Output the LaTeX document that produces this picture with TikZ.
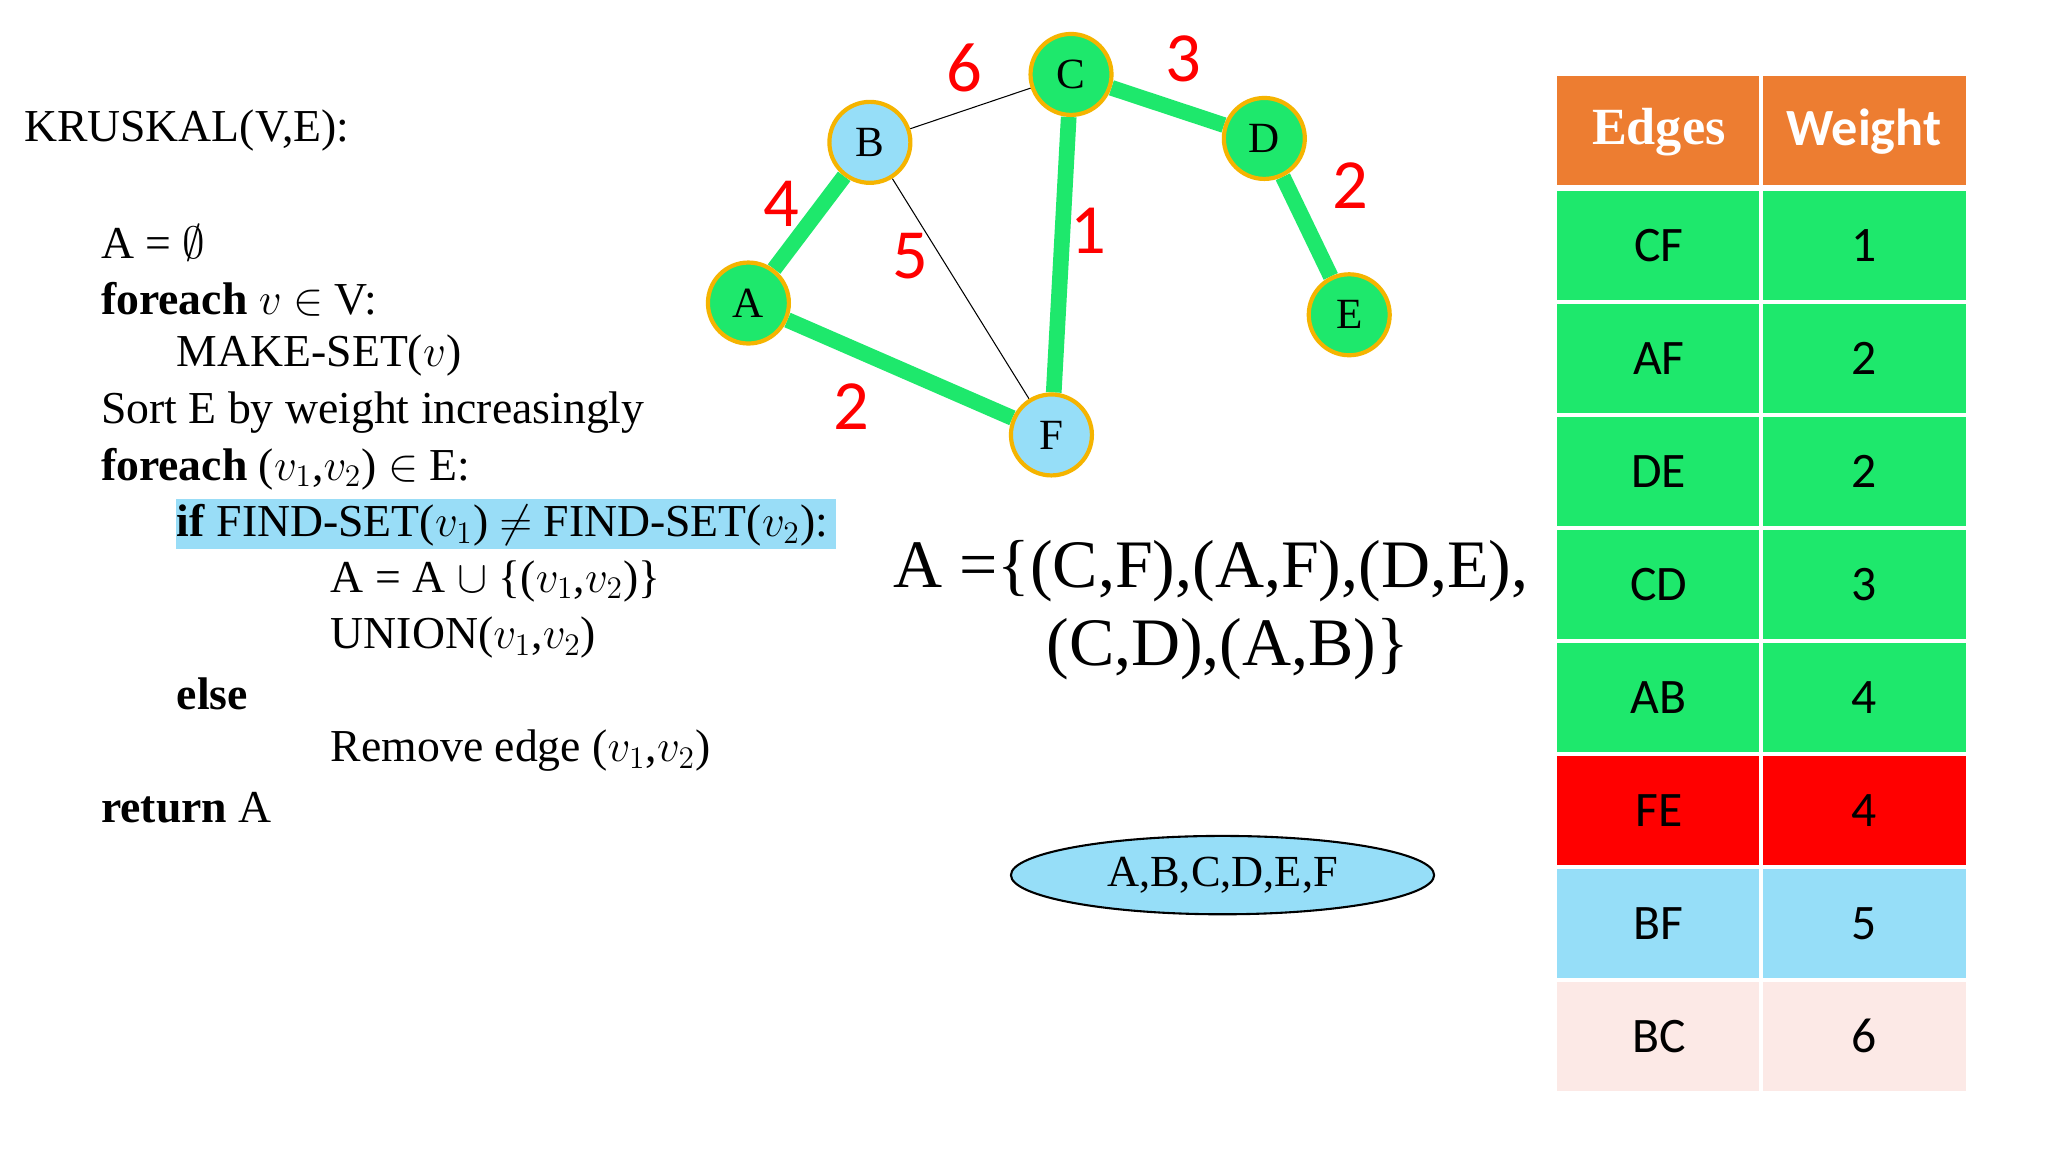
\documentclass[tikz,border=0pt]{standalone}
\usepackage{amssymb}
\usepackage{fontspec}
\setmainfont{Liberation Serif}
\newfontfamily\calfont{Carlito}
\usetikzlibrary{shapes.geometric,backgrounds}
\begin{document}
\begin{tikzpicture}[x=0.5pt,y=-0.5pt]
\definecolor{gr}{HTML}{1EE86C}
\definecolor{lb}{HTML}{96DEF8}
\definecolor{og}{HTML}{ED7D31}
\definecolor{rd}{HTML}{FF0000}
\definecolor{pk}{HTML}{FCE9E6}
\definecolor{yb}{HTML}{F5B400}
\definecolor{hl}{HTML}{99DDF7}
\tikzset{
 code/.style={anchor=west,inner sep=0pt,font=\fontsize{17.5}{19}\selectfont},
 vert/.style={circle,draw=yb,line width=1.6pt,minimum size=31pt,inner sep=0pt,font=\fontsize{16.5}{17}\selectfont},
 tree/.style={gr,line width=6pt},
 thinedge/.style={black,line width=0.4pt},
 wt/.style={red,font=\calfont\fontsize{27}{28}\selectfont},
 cell/.style={minimum width=76.5pt,minimum height=41.5pt,inner sep=0pt,font=\calfont\fontsize{19}{20}\selectfont},
}
\useasboundingbox (0,0) rectangle (1568,882);
% code
\node[code] (k) at (18,100) {KRUSKAL(V,E):};
\node[code] (l1) at (77,186) {A = $\emptyset$};
\node[code] (l2) at (77,229) {\textbf{foreach} $v$ $\in$ V:};
\node[code] (l3) at (135,272) {MAKE-SET($v$)};
\node[code] (l4) at (77,316) {Sort E by weight increasingly};
\node[code] (l5) at (77,359) {\textbf{foreach} ($v_1$,$v_2$) $\in$ E:};
\node[code] (l6) at (135,402) {\textbf{if} FIND-SET($v_1$) $\neq$ FIND-SET($v_2$):};
\node[code] (l7) at (253,445) {A = A $\cup$ \{($v_1$,$v_2$)\}};
\node[code] (l8) at (253,488) {UNION($v_1$,$v_2$)};
\node[code] (l9) at (135,531) {\textbf{else}};
\node[code] (l10) at (253,575) {Remove edge ($v_1$,$v_2$)};
\node[code] (l11) at (77,618) {\textbf{return} A};
% graph
\node[vert,fill=lb] (B) at (666,109) {B};
\node[vert,fill=gr] (C) at (820,57) {C};
\node[vert,fill=gr] (D) at (968,106) {D};
\node[vert,fill=gr] (A) at (573,232) {A};
\node[vert,fill=gr] (E) at (1033,241) {E};
\node[vert,fill=lb] (F) at (805,333) {F};
\begin{pgfonlayer}{background}
\fill[white] (0,0) rectangle (1568,882);
\fill[hl] (135,382) rectangle (640,420);
\draw[tree] (A) -- (B);
\draw[tree] (A) -- (F);
\draw[tree] (C) -- (F);
\draw[tree] (C) -- (D);
\draw[tree] (D) -- (E);
\draw[thinedge] (B) -- (C);
\draw[thinedge] (B) -- (F);
\end{pgfonlayer}
\node[wt] (w6) at (738,52) {6};
\node[wt] (w3) at (906,45) {3};
\node[wt] (w4) at (598,156) {4};
\node[wt] (w1) at (833,177) {1};
\node[wt] (w5) at (697,196) {5};
\node[wt] (w2a) at (652,311) {2};
\node[wt] (w2b) at (1034,142) {2};
% result
\node[font=\fontsize{26}{28}\selectfont] (r1) at (927,437) {A =\{(C,F),(A,F),(D,E),};
\node[font=\fontsize{26}{28}\selectfont] (r2) at (940,497) {(C,D),(A,B)\}};
\node[ellipse,draw=black,fill=lb,line width=0.8pt,minimum width=162pt,minimum height=30pt,inner sep=0pt,font=\fontsize{17}{18}\selectfont] (set) at (936,670) {A,B,C,D,E,F};
% table
\fill[og] (1192,58) rectangle (1347,142);
\fill[og] (1350,58) rectangle (1505,142);
\node[white,font=\bfseries\fontsize{20}{22}\selectfont] (h1) at (1270,101) {Edges};
\node[white,font=\calfont\bfseries\fontsize{20}{22}\selectfont] (h2) at (1427,101) {Weight};
\foreach \e/\w/\c [count=\i from 0] in {CF/1/gr,AF/2/gr,DE/2/gr,CD/3/gr,AB/4/gr,FE/4/rd,BF/5/lb,BC/6/pk}{
 \pgfmathsetmacro\yy{146+86.5*\i}
 \fill[\c] (1192,\yy) rectangle (1347,\yy+83.5);
 \fill[\c] (1350,\yy) rectangle (1505,\yy+83.5);
 \node[cell] (e\i) at (1270,\yy+42) {\e};
 \node[cell] (v\i) at (1427,\yy+42) {\w};
}
\end{tikzpicture}
\end{document}
